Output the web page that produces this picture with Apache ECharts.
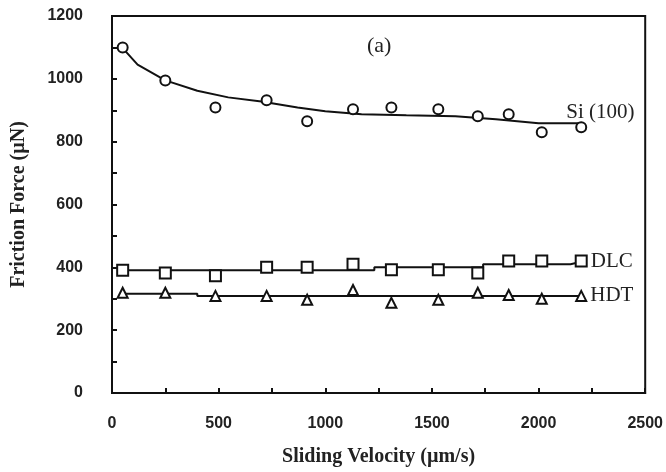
<!DOCTYPE html>
<html><head><meta charset="utf-8">
<script src="https://cdn.jsdelivr.net/npm/echarts@6/dist/echarts.min.js"></script>
<style>html,body{margin:0;padding:0;background:#fff}#c{width:666px;height:472px}</style>
</head><body><div id="c"></div>
<script>
// Sliding velocity (µm/s) for each measured point
const velocity = [50, 250, 485, 725, 915, 1130, 1310, 1530, 1715, 1860, 2015, 2200];
// Friction force (µN)
const si100 = [1100, 995, 909, 932, 865, 903, 909, 903, 881, 887, 830, 846];
const dlc   = [391, 382, 373, 400, 400, 410, 392, 392, 382, 420, 420, 420];
const hdt   = [319, 319, 309, 309, 297, 328, 287, 297, 319, 312, 300, 309];
// Fitted trend lines
const siFitX = [50, 120, 250, 400, 545, 700, 870, 1000, 1170, 1380, 1610, 1800, 2000, 2200];
const siFitY = [1098, 1045, 995, 962, 941, 928, 909, 897, 887, 884, 881, 871, 859, 859];
const dlcFitX = [50, 1230, 1230, 1740, 1740, 2150, 2200];
const dlcFitY = [391, 391, 400, 400, 410, 410, 418];
const hdtFitX = [50, 400, 400, 2200];
const hdtFitY = [316, 316, 309, 309];
const seriesNames = ['Si (100)', 'DLC', 'HDT'];

const zip = (a, b) => a.map((v, i) => [v, b[i]]);
const lastLabel = (data, text, offset) => data.map((d, i) => i === data.length - 1 ? {
  value: d, label: {show: true, position: 'right', offset: offset, formatter: text,
    fontFamily: 'Liberation Serif', fontSize: 21, color: '#222'}
} : d);

const chart = echarts.init(document.getElementById('c'));
const fitStyle = {type: 'line', symbol: 'none', lineStyle: {color: '#111', width: 2}, z: 2, silent: true};
const markStyle = {type: 'line', lineStyle: {width: 0}, symbolSize: 10,
  itemStyle: {color: '#fff', borderColor: '#111', borderWidth: 2}, z: 3};
const axisFont = {fontFamily: 'Liberation Sans', fontWeight: 'bold', fontSize: 16, color: '#222',
  formatter: v => String(v)};
chart.setOption({
  animation: false,
  title: {text: '(a)', left: 362, top: 30, textStyle: {fontFamily: 'Liberation Serif', fontWeight: 'normal', fontSize: 22, color: '#222'}},
  grid: {left: 112, top: 16, right: 13, bottom: 76, show: true, borderColor: '#111', borderWidth: 2},
  xAxis: {type: 'value', min: 0, max: 2500, interval: 500,
    name: 'Sliding Velocity (\u00b5m/s)', nameLocation: 'middle', nameGap: 54,
    nameTextStyle: {fontFamily: 'Liberation Serif', fontWeight: 'bold', fontSize: 20, color: '#222'},
    axisLine: {lineStyle: {color: '#111', width: 2}},
    axisTick: {inside: true, length: 5, lineStyle: {color: '#111', width: 2}},
    minorTick: {show: true, splitNumber: 2, length: 5, lineStyle: {color: '#111', width: 2}},
    axisLabel: Object.assign({margin: 23}, axisFont),
    splitLine: {show: false}},
  yAxis: {type: 'value', min: 0, max: 1200, interval: 200,
    name: 'Friction Force (\u00b5N)', nameLocation: 'middle', nameGap: 83,
    nameTextStyle: {fontFamily: 'Liberation Serif', fontWeight: 'bold', fontSize: 20, color: '#222'},
    axisLine: {lineStyle: {color: '#111', width: 2}},
    axisTick: {inside: true, length: 5, lineStyle: {color: '#111', width: 2}},
    minorTick: {show: true, splitNumber: 2, length: 5, lineStyle: {color: '#111', width: 2}},
    axisLabel: Object.assign({margin: 29}, axisFont),
    splitLine: {show: false}},
  series: [
    Object.assign({}, fitStyle, {data: zip(siFitX, siFitY)}),
    Object.assign({}, fitStyle, {data: zip(dlcFitX, dlcFitY)}),
    Object.assign({}, fitStyle, {data: zip(hdtFitX, hdtFitY)}),
    Object.assign({}, markStyle, {name: seriesNames[0], symbol: 'circle', data: lastLabel(zip(velocity, si100), seriesNames[0], [-26, -15])}),
    Object.assign({}, markStyle, {name: seriesNames[1], symbol: 'rect', symbolSize: 11, data: lastLabel(zip(velocity, dlc), seriesNames[1], [-2, 0])}),
    Object.assign({}, markStyle, {name: seriesNames[2], symbol: 'triangle', data: lastLabel(zip(velocity, hdt), seriesNames[2], [-2, 0])})
  ]
});
</script></body></html>
